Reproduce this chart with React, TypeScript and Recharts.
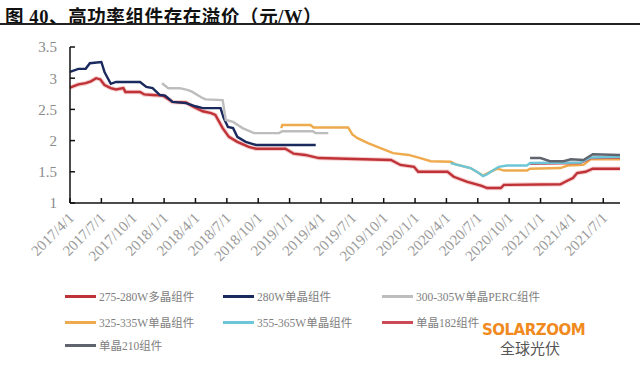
import { LineChart, Line, XAxis, YAxis } from "recharts"

type Pt = { m: number; v: number }

// x = months since 2017/4/1
const TICK_MONTHS = [0, 3, 6, 9, 12, 15, 18, 21, 24, 27, 30, 33, 36, 39, 42, 45, 48, 51]
const TICK_LABELS = [
  "2017/4/1", "2017/7/1", "2017/10/1", "2018/1/1", "2018/4/1", "2018/7/1",
  "2018/10/1", "2019/1/1", "2019/4/1", "2019/7/1", "2019/10/1", "2020/1/1",
  "2020/4/1", "2020/7/1", "2020/10/1", "2021/1/1", "2021/4/1", "2021/7/1",
]
const Y_TICKS = [1, 1.5, 2, 2.5, 3, 3.5]

const poly275: Pt[] = [
  { m: 0, v: 2.85 }, { m: 0.8, v: 2.9 }, { m: 1.5, v: 2.92 }, { m: 2.0, v: 2.95 },
  { m: 2.5, v: 3.0 }, { m: 2.9, v: 2.98 }, { m: 3.3, v: 2.89 }, { m: 3.9, v: 2.84 },
  { m: 4.4, v: 2.82 }, { m: 5.1, v: 2.84 }, { m: 5.3, v: 2.78 }, { m: 6.7, v: 2.78 },
  { m: 7.1, v: 2.74 }, { m: 7.9, v: 2.73 }, { m: 8.9, v: 2.72 }, { m: 9.8, v: 2.62 },
  { m: 11.1, v: 2.61 }, { m: 11.7, v: 2.55 }, { m: 12.7, v: 2.47 }, { m: 13.5, v: 2.44 },
  { m: 13.9, v: 2.41 }, { m: 14.6, v: 2.2 }, { m: 15.2, v: 2.06 }, { m: 16.0, v: 1.98 },
  { m: 17.1, v: 1.9 }, { m: 17.8, v: 1.87 }, { m: 20.6, v: 1.87 }, { m: 21.4, v: 1.79 },
  { m: 22.5, v: 1.77 }, { m: 23.8, v: 1.72 }, { m: 28.1, v: 1.7 }, { m: 30.7, v: 1.69 },
  { m: 31.6, v: 1.61 }, { m: 32.9, v: 1.58 }, { m: 33.3, v: 1.5 }, { m: 36.1, v: 1.5 },
  { m: 36.7, v: 1.42 }, { m: 38.0, v: 1.34 }, { m: 39.3, v: 1.28 }, { m: 39.9, v: 1.24 },
  { m: 41.2, v: 1.24 }, { m: 41.5, v: 1.29 }, { m: 46.9, v: 1.3 }, { m: 47.6, v: 1.36 },
  { m: 48.1, v: 1.4 }, { m: 48.5, v: 1.48 }, { m: 49.3, v: 1.5 }, { m: 50.0, v: 1.55 },
  { m: 52.6, v: 1.55 },
]

const mono280: Pt[] = [
  { m: 0, v: 3.1 }, { m: 0.8, v: 3.15 }, { m: 1.5, v: 3.15 }, { m: 1.9, v: 3.24 },
  { m: 3.0, v: 3.26 }, { m: 3.3, v: 3.1 }, { m: 3.9, v: 2.91 }, { m: 4.4, v: 2.94 },
  { m: 6.7, v: 2.94 }, { m: 7.3, v: 2.86 }, { m: 7.9, v: 2.84 }, { m: 8.6, v: 2.73 },
  { m: 9.1, v: 2.72 }, { m: 9.8, v: 2.62 }, { m: 11.1, v: 2.6 }, { m: 12.0, v: 2.55 },
  { m: 12.7, v: 2.52 }, { m: 14.4, v: 2.52 }, { m: 14.7, v: 2.36 }, { m: 15.1, v: 2.22 },
  { m: 15.6, v: 2.2 }, { m: 16.0, v: 2.06 }, { m: 16.8, v: 1.98 }, { m: 17.8, v: 1.93 },
  { m: 23.5, v: 1.93 },
]

const perc300: Pt[] = [
  { m: 8.8, v: 2.92 }, { m: 9.4, v: 2.84 }, { m: 10.5, v: 2.84 }, { m: 11.3, v: 2.81 },
  { m: 11.7, v: 2.78 }, { m: 12.7, v: 2.68 }, { m: 13.0, v: 2.66 }, { m: 14.6, v: 2.65 },
  { m: 14.9, v: 2.33 }, { m: 15.6, v: 2.3 }, { m: 16.5, v: 2.2 }, { m: 17.6, v: 2.12 },
  { m: 20.0, v: 2.12 }, { m: 20.3, v: 2.15 }, { m: 23.2, v: 2.15 }, { m: 23.5, v: 2.12 },
  { m: 24.7, v: 2.12 },
]

const mono325: Pt[] = [
  { m: 20.2, v: 2.2 }, { m: 20.3, v: 2.25 }, { m: 23.0, v: 2.25 }, { m: 23.3, v: 2.21 },
  { m: 26.6, v: 2.21 }, { m: 27.0, v: 2.1 }, { m: 27.5, v: 2.04 }, { m: 28.5, v: 1.96 },
  { m: 29.7, v: 1.88 }, { m: 30.9, v: 1.8 }, { m: 32.4, v: 1.77 }, { m: 33.5, v: 1.72 },
  { m: 34.5, v: 1.67 }, { m: 36.4, v: 1.66 }, { m: 36.9, v: 1.62 }, { m: 38.3, v: 1.56 },
  { m: 39.1, v: 1.48 }, { m: 39.5, v: 1.44 }, { m: 40.2, v: 1.5 }, { m: 40.9, v: 1.55 },
  { m: 41.5, v: 1.52 }, { m: 43.7, v: 1.52 }, { m: 44.0, v: 1.55 }, { m: 46.9, v: 1.56 },
  { m: 47.6, v: 1.6 }, { m: 49.1, v: 1.61 }, { m: 49.8, v: 1.7 }, { m: 52.6, v: 1.7 },
]

const mono355: Pt[] = [
  { m: 36.4, v: 1.64 }, { m: 38.3, v: 1.56 }, { m: 39.1, v: 1.48 }, { m: 39.5, v: 1.43 },
  { m: 39.9, v: 1.46 }, { m: 40.5, v: 1.53 }, { m: 41.0, v: 1.58 }, { m: 41.8, v: 1.6 },
  { m: 43.7, v: 1.6 }, { m: 44.0, v: 1.64 }, { m: 48.8, v: 1.65 }, { m: 49.8, v: 1.73 },
  { m: 52.6, v: 1.74 },
]

const mono182: Pt[] = [
  { m: 44.0, v: 1.63 }, { m: 48.8, v: 1.64 }, { m: 49.8, v: 1.72 }, { m: 52.6, v: 1.73 },
]

const mono210: Pt[] = [
  { m: 44.0, v: 1.72 }, { m: 45.0, v: 1.72 }, { m: 45.9, v: 1.67 }, { m: 47.2, v: 1.67 },
  { m: 47.9, v: 1.7 }, { m: 49.1, v: 1.69 }, { m: 50.0, v: 1.78 }, { m: 52.6, v: 1.77 },
]

const SERIES = [
  { name: "275-280W多晶组件", data: poly275, color: "#bf3338" },
  { name: "280W单晶组件", data: mono280, color: "#1b2a5e" },
  { name: "300-305W单晶PERC组件", data: perc300, color: "#bdbdbd" },
  { name: "325-335W单晶组件", data: mono325, color: "#eeaa4c" },
  { name: "单晶182组件", data: mono182, color: "#cc4a55" },
  { name: "355-365W单晶组件", data: mono355, color: "#6cc6d8" },
  { name: "单晶210组件", data: mono210, color: "#60646e" },
]

const LEGEND_ORDER = [
  "275-280W多晶组件", "280W单晶组件", "300-305W单晶PERC组件",
  "325-335W单晶组件", "355-365W单晶组件", "单晶182组件", "单晶210组件",
]

const SERIF = '"Liberation Serif", "Noto Sans CJK SC", serif'

function DateTick({ x, y, payload }: any) {
  const label = TICK_LABELS[TICK_MONTHS.indexOf(payload.value)] ?? ""
  const ax = x + 5
  const ay = y + 21
  return (
    <text
      x={ax}
      y={ay}
      transform={`rotate(-45 ${ax} ${ay})`}
      textAnchor="end"
      fill="#9a9a9a"
      fontSize={15}
      fontFamily={SERIF}
    >
      {label}
    </text>
  )
}

export default function App() {
  const legendCols = [65, 223, 382]
  const legendRows = [296, 322, 345]
  return (
    <div style={{ position: "fixed", left: 0, top: 0, width: 640, height: 366, background: "#fff", fontFamily: SERIF }}>
      <div style={{ position: "absolute", left: 5, top: 2, fontSize: 18.5, fontWeight: 700, color: "#111", whiteSpace: "nowrap", letterSpacing: 0.6 }}>
        图 40、高功率组件存在溢价（元/W）
      </div>
      <div style={{ position: "absolute", left: 0, top: 23, width: 640, height: 2, background: "#222" }} />

      <LineChart width={640} height={366} margin={{ top: 47, right: 20, left: 0, bottom: 93 }}>
        <XAxis
          dataKey="m"
          type="number"
          domain={[0, 52.6]}
          ticks={TICK_MONTHS}
          tick={<DateTick />}
          tickSize={-5}
          tickMargin={0}
          height={70}
          allowDuplicatedCategory={false}
          stroke="#111"
          strokeWidth={1.5}
          interval={0}
        />
        <YAxis
          type="number"
          domain={[1, 3.5]}
          ticks={Y_TICKS}
          width={70}
          tickSize={-5}
          tickMargin={18}
          stroke="#111"
          strokeWidth={1.5}
          tick={{ fill: "#8a8a8a", fontSize: 15, fontFamily: SERIF }}
        />
        <Line
          data={poly275}
          dataKey="v"
          stroke="#f6cfcf"
          strokeWidth={4.5}
          dot={false}
          legendType="none"
          isAnimationActive={false}
        />
        {SERIES.map((s) => (
          <Line
            key={s.name}
            data={s.data}
            dataKey="v"
            name={s.name}
            stroke={s.color}
            strokeWidth={2.4}
            dot={false}
            isAnimationActive={false}
          />
        ))}
      </LineChart>

      {LEGEND_ORDER.map((name, i) => {
        const s = SERIES.find((d) => d.name === name)!
        const left = legendCols[i % 3]
        const top = legendRows[Math.floor(i / 3)]
        return (
          <div key={name} style={{ position: "absolute", left, top: top - 8, height: 16, display: "flex", alignItems: "center", whiteSpace: "nowrap" }}>
            <div style={{ width: 31, height: 3, background: s.color, marginRight: 3 }} />
            <span style={{ fontSize: 11.5, color: "#808080" }}>{name}</span>
          </div>
        )
      })}

      <div style={{ position: "absolute", left: 482, top: 321, fontSize: 15, fontWeight: 700, color: "#f08a1e", fontFamily: '"DejaVu Sans", sans-serif', letterSpacing: -0.5 }}>
        SOLARZOOM
      </div>
      <div style={{ position: "absolute", left: 500, top: 337, fontSize: 15, color: "#555", fontFamily: '"Noto Sans CJK SC", sans-serif' }}>
        全球光伏
      </div>
    </div>
  )
}
